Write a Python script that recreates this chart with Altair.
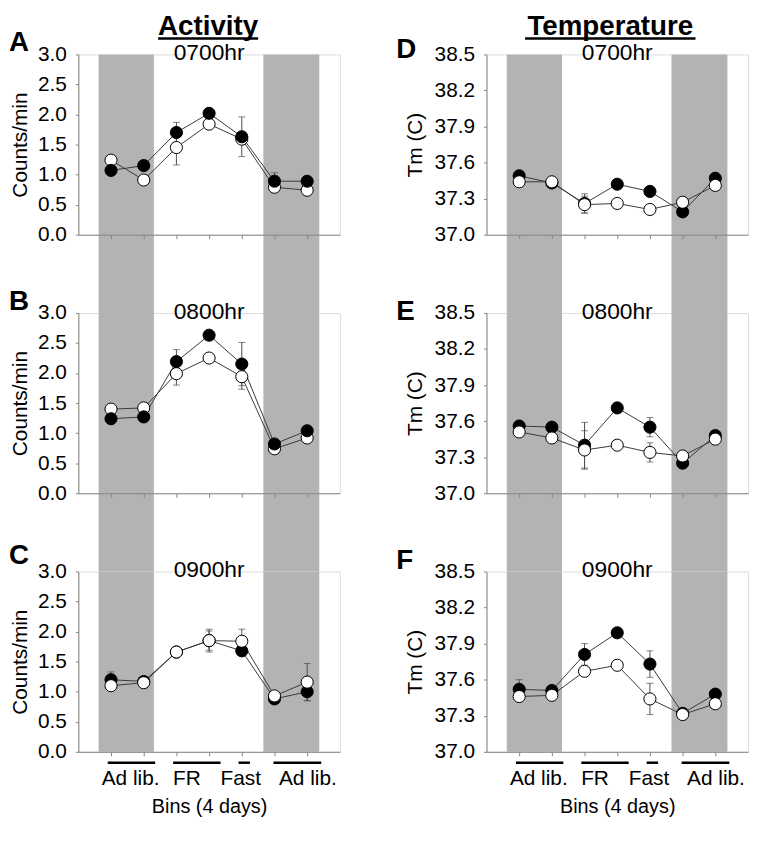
import altair as alt
import pandas as pd

# ---------------- data ----------------
bins = [1, 2, 3, 4, 5, 6, 7]
band_start = [0.62, 5.66]
band_end = [2.31, 7.37]
group_labels = ["Ad lib.", "FR", "Fast", "Ad lib."]
group_label_x = [1.6, 3.32, 4.97, 7.02]
group_line_start = [0.9, 2.9, 4.9, 5.97]
group_line_end = [2.35, 4.35, 5.25, 7.43]

act_ticks = [0.0, 0.5, 1.0, 1.5, 2.0, 2.5, 3.0]
tmp_ticks = [37.0, 37.3, 37.6, 37.9, 38.2, 38.5]

A_black = [1.07, 1.15, 1.70, 2.02, 1.63, 0.89, 0.89]
A_black_err = [0.05, 0.05, 0.17, 0.05, 0.33, 0.14, 0.05]
A_white = [1.24, 0.91, 1.45, 1.84, 1.59, 0.79, 0.74]
A_white_err = [0.05, 0.05, 0.29, 0.05, 0.05, 0.05, 0.05]

B_black = [1.24, 1.27, 2.19, 2.63, 2.15, 0.82, 1.04]
B_black_err = [0.05, 0.05, 0.20, 0.05, 0.36, 0.05, 0.05]
B_white = [1.40, 1.42, 1.99, 2.25, 1.94, 0.74, 0.92]
B_white_err = [0.05, 0.05, 0.19, 0.05, 0.21, 0.05, 0.05]

C_black = [1.20, 1.17, 1.66, 1.85, 1.68, 0.88, 1.00]
C_black_err = [0.13, 0.05, 0.05, 0.16, 0.05, 0.05, 0.15]
C_white = [1.10, 1.15, 1.66, 1.85, 1.84, 0.93, 1.16]
C_white_err = [0.05, 0.05, 0.05, 0.19, 0.20, 0.05, 0.31]

D_black = [37.49, 37.43, 37.26, 37.42, 37.36, 37.19, 37.47]
D_black_err = [0.02, 0.02, 0.08, 0.02, 0.02, 0.02, 0.02]
D_white = [37.44, 37.44, 37.25, 37.26, 37.21, 37.27, 37.41]
D_white_err = [0.02, 0.02, 0.07, 0.02, 0.02, 0.02, 0.02]

E_black = [37.56, 37.55, 37.40, 37.71, 37.55, 37.25, 37.48]
E_black_err = [0.02, 0.02, 0.19, 0.02, 0.08, 0.02, 0.02]
E_white = [37.51, 37.46, 37.36, 37.40, 37.34, 37.31, 37.45]
E_white_err = [0.02, 0.02, 0.16, 0.02, 0.08, 0.02, 0.02]

F_black = [37.52, 37.51, 37.81, 37.99, 37.73, 37.32, 37.48]
F_black_err = [0.08, 0.02, 0.09, 0.02, 0.11, 0.02, 0.02]
F_white = [37.46, 37.47, 37.67, 37.72, 37.44, 37.31, 37.40]
F_white_err = [0.02, 0.02, 0.03, 0.02, 0.13, 0.03, 0.02]

# ---------------- layout / style ----------------
W, H, GAP = 264, 182, 79
COLGAP = 148
FONT = "Liberation Sans"
AX = "#868686"
BAND = "#b3b3b3"


def panel(letter, letter_dx, letter_dy, hour, ymin, ymax, yticks, ytitle,
          black, black_err, white, white_err, white_on_top, bottom,
          title_pad=9, col_title=None, col_title_dx=0, col_title_w=0):
    xs = alt.Scale(domain=[0, 8], nice=False, zero=False)
    ys = alt.Scale(domain=[ymin, ymax], nice=False, zero=False)
    xaxis = alt.Axis(values=bins, labels=False, ticks=True, tickSize=4,
                     tickColor=AX, domainColor=AX, grid=False,
                     title="Bins (4 days)" if bottom else None,
                     titleFont=FONT, titleFontSize=20, titleFontWeight="normal",
                     titleColor="black", titlePadding=41, zindex=1)
    yaxis = alt.Axis(values=yticks, format=".1f", tickSize=3, tickColor=AX,
                     domainColor=AX, grid=False, labelFont=FONT,
                     labelFontSize=21, labelColor="black", labelPadding=9,
                     title=ytitle, titleFont=FONT, titleFontSize=21,
                     titleFontWeight="normal", titleColor="black",
                     titlePadding=title_pad, zindex=1)

    def X(f):
        return alt.X(f, scale=xs, axis=xaxis)

    def Y(f):
        return alt.Y(f, scale=ys, axis=yaxis)

    rows = []
    for s, vals, errs in (("black", black, black_err), ("white", white, white_err)):
        for b, v, e in zip(bins, vals, errs):
            rows.append({"series": s, "bin": b, "v": v, "lo": v - e, "hi": v + e})
    df = pd.DataFrame(rows)
    base = alt.Chart(df)

    bands = alt.Chart(pd.DataFrame({"s": band_start, "e": band_end})).mark_rect(
        color=BAND).encode(x=X("s:Q"), x2="e:Q", y=alt.value(0),
                           y2=alt.value(H if bottom else H + GAP))
    err = base.mark_rule(color="#4d4d4d", strokeWidth=1).encode(
        x=X("bin:Q"), y=Y("lo:Q"), y2="hi:Q")
    cap_lo = base.mark_tick(orient="horizontal", size=7, thickness=1,
                            color="#4d4d4d").encode(x=X("bin:Q"), y=Y("lo:Q"))
    cap_hi = base.mark_tick(orient="horizontal", size=7, thickness=1,
                            color="#4d4d4d").encode(x=X("bin:Q"), y=Y("hi:Q"))
    lines = base.mark_line(color="#3a3a3a", strokeWidth=1).encode(
        x=X("bin:Q"), y=Y("v:Q"), detail="series:N")
    pb = base.transform_filter(alt.datum.series == "black").mark_point(
        shape="circle", filled=True, fill="black", stroke="black",
        strokeWidth=1, size=150, opacity=1).encode(x=X("bin:Q"), y=Y("v:Q"))
    pw = base.transform_filter(alt.datum.series == "white").mark_point(
        shape="circle", filled=True, fill="white", stroke="black",
        strokeWidth=1, size=150, opacity=1).encode(x=X("bin:Q"), y=Y("v:Q"))
    pts = [pb, pw] if white_on_top else [pw, pb]

    hour_t = alt.Chart(pd.DataFrame({"t": [hour]})).mark_text(
        font=FONT, fontSize=23, align="center", baseline="middle",
        color="black").encode(text="t:N", x=alt.value(W / 2), y=alt.value(-1))
    letter_t = alt.Chart(pd.DataFrame({"t": [letter]})).mark_text(
        font=FONT, fontSize=28, fontWeight="bold", align="left",
        baseline="alphabetic", color="black").encode(
        text="t:N", x=alt.value(letter_dx), y=alt.value(letter_dy))

    layers = [bands, err, cap_lo, cap_hi, lines] + pts + [hour_t, letter_t]

    if bottom:
        gl = alt.Chart(pd.DataFrame({"s": group_line_start, "e": group_line_end})).mark_rule(
            color="black", strokeWidth=2.5).encode(x=X("s:Q"), x2="e:Q", y=alt.value(H + 11))
        glab = alt.Chart(pd.DataFrame({"lx": group_label_x, "lab": group_labels})).mark_text(
            font=FONT, fontSize=21, align="center", baseline="alphabetic",
            color="black").encode(x=X("lx:Q"), text="lab:N", y=alt.value(H + 34))
        layers += [gl, glab]

    if col_title:
        tdf = pd.DataFrame({"t": [col_title]})
        cx = W / 2 + col_title_dx
        ct = alt.Chart(tdf).mark_text(
            font=FONT, fontSize=28, fontWeight="bold", align="center",
            baseline="alphabetic", color="black").encode(
            text="t:N", x=alt.value(cx), y=alt.value(-20))
        ul = alt.Chart(tdf).mark_rule(color="black", strokeWidth=2.5).encode(
            x=alt.value(cx - col_title_w / 2), x2=alt.value(cx + col_title_w / 2),
            y=alt.value(-16))
        layers += [ct, ul]

    return alt.layer(*layers).properties(width=W, height=H)


A = panel("A", -70, -3, "0700hr", 0, 3, act_ticks, "Counts/min",
          A_black, A_black_err, A_white, A_white_err, False, False, 7,
          "Activity", -1, 101)
B = panel("B", -70, -3, "0800hr", 0, 3, act_ticks, "Counts/min",
          B_black, B_black_err, B_white, B_white_err, False, False, 7)
C = panel("C", -70, -8, "0900hr", 0, 3, act_ticks, "Counts/min",
          C_black, C_black_err, C_white, C_white_err, True, True, 7)
D = panel("D", -91, 4, "0700hr", 37, 38.5, tmp_ticks, "Tm (C)",
          D_black, D_black_err, D_white, D_white_err, True, False, 9,
          "Temperature", -7, 172)
E = panel("E", -91, 7, "0800hr", 37, 38.5, tmp_ticks, "Tm (C)",
          E_black, E_black_err, E_white, E_white_err, True, False, 9)
F = panel("F", -91, -3, "0900hr", 37, 38.5, tmp_ticks, "Tm (C)",
          F_black, F_black_err, F_white, F_white_err, True, True, 9)

chart = alt.concat(A, D, B, E, C, F, columns=2,
                   spacing={"row": GAP, "column": COLGAP},
                   bounds="flush").properties(
    padding=0).configure_view(stroke=None).configure(font=FONT)

chart.save("out.html", embed_options={"renderer": "svg", "actions": False})
